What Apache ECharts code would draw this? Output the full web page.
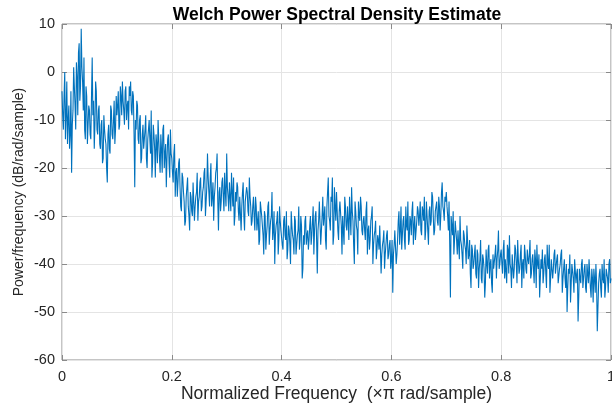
<!DOCTYPE html>
<html>
<head>
<meta charset="utf-8">
<script src="https://cdn.jsdelivr.net/npm/echarts@6/dist/echarts.min.js"></script>
<style>
  html, body { margin: 0; padding: 0; background: #fff; }
  #chart { width: 612px; height: 408px; }
</style>
</head>
<body>
<div id="chart"></div>
<script>
// Welch PSD estimate (dB/rad/sample) on a uniform 801-bin grid from 0 to 1 (x pi rad/sample).
// psdDbEven holds bins 0, 2, 4, ... 800; psdDbOdd holds bins 1, 3, 5, ... 799.
const binCount = 800;
const psdDbEven = [
  -4, -12, 0, -9, -15, -7, -13, -21, -8, -3, -12, -1, 4, -6, 9, -2, 3, -14, -5, -11,
  -8, -14, 3, -6, -11, -4, -13, -7, -16, -10, -18, -12, -15, -23, -11, -17, -8, -14, -6, -12,
  -9, -4, -11, -5, -2, -8, -4, -10, -6, -3, -2, -9, -5, -24, -12, -7, -15, -9, -18, -11,
  -16, -9, -20, -12, -14, -8, -19, -13, -22, -15, -10, -18, -13, -21, -11, -17, -24, -14, -19, -12,
  -18, -23, -15, -21, -26, -19, -24, -29, -22, -27, -31, -24, -28, -33, -26, -30, -23, -28, -25, -31,
  -26, -22, -28, -24, -20, -27, -17, -25, -22, -28, -23, -26, -21, -17, -33, -24, -27, -22, -29, -25,
  -17, -26, -23, -29, -25, -22, -30, -27, -24, -31, -26, -28, -23, -33, -27, -25, -30, -26, -32, -28,
  -30, -26, -33, -29, -35, -27, -32, -38, -30, -34, -28, -36, -31, -25, -33, -40, -32, -29, -35, -31,
  -33, -37, -30, -35, -39, -32, -36, -29, -34, -38, -31, -36, -33, -37, -30, -43, -34, -31, -36, -33,
  -35, -30, -34, -28, -33, -29, -42, -31, -27, -33, -26, -30, -35, -28, -22, -31, -26, -22, -34, -28,
  -25, -33, -29, -27, -38, -30, -26, -32, -28, -35, -30, -24, -31, -40, -29, -33, -27, -31, -28, -34,
  -30, -35, -27, -33, -37, -31, -28, -36, -33, -39, -34, -37, -32, -38, -35, -41, -36, -33, -38, -35,
  -39, -46, -36, -33, -38, -31, -36, -28, -34, -30, -37, -32, -27, -35, -31, -29, -36, -30, -33, -28,
  -32, -27, -34, -29, -26, -33, -30, -36, -28, -31, -26, -34, -29, -27, -32, -28, -30, -23, -29, -26,
  -25, -30, -27, -47, -32, -29, -35, -31, -38, -33, -30, -36, -41, -34, -37, -32, -39, -35, -45, -37,
  -40, -36, -43, -38, -41, -35, -44, -39, -47, -37, -42, -36, -40, -44, -38, -41, -36, -39, -33, -40,
  -37, -42, -35, -39, -44, -37, -34, -41, -38, -43, -36, -40, -35, -42, -38, -45, -39, -36, -41, -37,
  -40, -35, -42, -38, -44, -39, -36, -41, -47, -39, -37, -42, -38, -45, -40, -36, -43, -39, -41, -37,
  -42, -38, -44, -40, -37, -43, -39, -45, -50, -41, -38, -44, -40, -46, -39, -42, -52, -41, -44, -39,
  -43, -40, -46, -42, -39, -45, -41, -48, -43, -40, -54, -44, -41, -47, -43, -39, -45, -42, -46, -39,
  -43
];
const psdDbOdd = [
  -9, -5, -14, -2, -10, -16, -4, -11, 1, -7, 2, -9, 6, -3, 1, -8, -12, -3, -15, -7,
  -13, -5, -9, -16, -2, -12, -8, -15, -11, -19, -9, -14, -20, -13, -16, -7, -13, -10, -15, -5,
  -7, -12, -3, -9, -6, -11, -3, -7, -12, -5, -8, -4, -13, -10, -6, -14, -10, -19, -13, -16,
  -12, -18, -14, -10, -17, -22, -11, -16, -13, -19, -14, -21, -16, -12, -20, -15, -18, -13, -22, -17,
  -21, -17, -26, -20, -23, -18, -28, -21, -25, -32, -26, -22, -30, -25, -29, -23, -31, -26, -21, -27,
  -23, -29, -25, -21, -30, -24, -22, -28, -19, -26, -31, -24, -20, -27, -25, -29, -23, -26, -21, -28,
  -24, -29, -26, -21, -28, -32, -25, -23, -29, -26, -33, -25, -30, -27, -24, -29, -22, -28, -31, -26,
  -33, -28, -31, -36, -27, -30, -34, -29, -37, -32, -27, -33, -30, -35, -29, -34, -31, -38, -28, -33,
  -36, -31, -34, -29, -37, -33, -40, -32, -35, -30, -38, -34, -28, -35, -32, -41, -36, -30, -34, -37,
  -32, -36, -31, -38, -30, -35, -33, -27, -36, -30, -32, -28, -37, -25, -30, -33, -27, -36, -24, -31,
  -29, -35, -27, -32, -30, -36, -28, -33, -31, -26, -34, -29, -36, -27, -32, -38, -30, -26, -33, -31,
  -33, -29, -38, -32, -35, -30, -40, -34, -31, -37, -35, -32, -42, -36, -33, -38, -34, -39, -36, -41,
  -35, -38, -33, -40, -35, -29, -33, -37, -31, -35, -28, -33, -36, -30, -34, -27, -32, -35, -31, -29,
  -30, -33, -28, -31, -35, -27, -33, -29, -32, -25, -30, -33, -28, -31, -26, -33, -25, -28, -31, -27,
  -28, -33, -36, -30, -34, -38, -31, -35, -33, -39, -35, -38, -33, -36, -40, -35, -38, -42, -36, -41,
  -38, -42, -37, -45, -39, -43, -38, -41, -44, -40, -37, -43, -39, -46, -41, -38, -43, -37, -41, -38,
  -40, -37, -43, -39, -36, -42, -40, -45, -38, -41, -37, -44, -39, -41, -36, -40, -43, -38, -42, -39,
  -38, -43, -39, -41, -37, -45, -40, -38, -43, -41, -44, -39, -42, -36, -41, -46, -39, -43, -38, -42,
  -39, -44, -41, -38, -46, -41, -43, -40, -45, -42, -48, -40, -43, -39, -44, -41, -47, -43, -40, -45,
  -41, -45, -40, -44, -42, -47, -43, -41, -46, -44, -49, -42, -45, -40, -44, -47, -41, -43, -40, -44
];
const xTicks = [0, 0.2, 0.4, 0.6, 0.8, 1];
const yTicks = [-60, -50, -40, -30, -20, -10, 0, 10];

const titleText = 'Welch Power Spectral Density Estimate';
const xName = 'Normalized Frequency  (×π rad/sample)';
const yName = 'Power/frequency (dB/rad/sample)';

const font = '"Liberation Sans", Arial, Helvetica, sans-serif';
const boxColor = '#8a8a8a';
const gridColor = '#e4e4e4';
const labelColor = '#262626';

// merge the two bin sets back into frequency order
const seriesData = [];
for (let k = 0; k <= binCount; k++) {
  const v = (k % 2 === 0) ? psdDbEven[k / 2] : psdDbOdd[(k - 1) / 2];
  seriesData.push([k / binCount, v]);
}

const xStep = xTicks[1] - xTicks[0];
const yStep = yTicks[1] - yTicks[0];

// inward tick marks on all four sides of the box
const tickStyle = { show: true, inside: true, length: 5, lineStyle: { color: boxColor } };

const chart = echarts.init(document.getElementById('chart'), null, { renderer: 'canvas' });
chart.setOption({
  animation: false,
  backgroundColor: '#ffffff',
  title: {
    text: titleText,
    left: 337,
    top: 6,
    textAlign: 'center',
    padding: 0,
    textStyle: { fontFamily: font, fontSize: 17.5, fontWeight: 'bold', color: '#000' }
  },
  grid: {
    left: 62, right: 1, top: 24, bottom: 48,
    outerBoundsMode: 'none',
    containLabel: false,
    show: true, borderColor: boxColor, borderWidth: 1, backgroundColor: '#fff'
  },
  xAxis: [{
    type: 'value',
    min: xTicks[0], max: xTicks[xTicks.length - 1], interval: xStep,
    position: 'bottom',
    name: xName, nameLocation: 'middle', nameGap: 25, nameMoveOverlap: false,
    nameTextStyle: { fontFamily: font, fontSize: 17.5, color: labelColor },
    axisLine: { show: false, onZero: false },
    axisTick: tickStyle,
    axisLabel: { fontFamily: font, fontSize: 14.5, color: labelColor, margin: 9 },
    splitLine: { show: true, lineStyle: { color: gridColor, width: 1 } }
  }, {
    type: 'value',
    min: xTicks[0], max: xTicks[xTicks.length - 1], interval: xStep,
    position: 'top',
    axisLine: { show: false, onZero: false },
    axisTick: tickStyle,
    axisLabel: { show: false },
    splitLine: { show: false }
  }],
  yAxis: [{
    type: 'value',
    min: yTicks[0], max: yTicks[yTicks.length - 1], interval: yStep,
    position: 'left',
    name: yName, nameLocation: 'middle', nameGap: 36, nameMoveOverlap: false,
    nameTextStyle: { fontFamily: font, fontSize: 14, color: labelColor },
    axisLine: { show: false, onZero: false },
    axisTick: tickStyle,
    axisLabel: { fontFamily: font, fontSize: 14.5, color: labelColor, margin: 7 },
    splitLine: { show: true, lineStyle: { color: gridColor, width: 1 } }
  }, {
    type: 'value',
    min: yTicks[0], max: yTicks[yTicks.length - 1], interval: yStep,
    position: 'right',
    axisLine: { show: false, onZero: false },
    axisTick: tickStyle,
    axisLabel: { show: false },
    splitLine: { show: false }
  }],
  series: [{
    type: 'line',
    data: seriesData,
    xAxisIndex: 0,
    yAxisIndex: 0,
    showSymbol: false,
    symbol: 'none',
    sampling: false,
    lineStyle: { color: '#0072BD', width: 1.1 },
    emphasis: { disabled: true },
    silent: true
  }]
});
</script>
</body>
</html>
